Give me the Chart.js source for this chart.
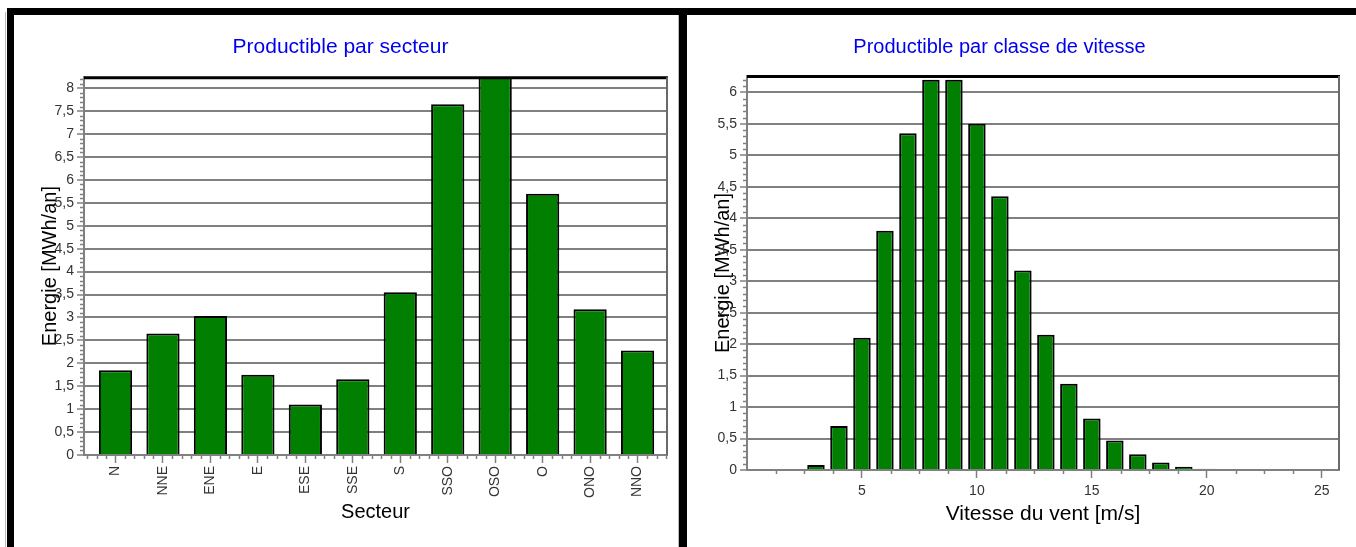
<!DOCTYPE html>
<html>
<head>
<meta charset="utf-8">
<script src="https://cdn.jsdelivr.net/npm/chart.js@4.4.0/dist/chart.umd.min.js"></script>
<style>
  html, body { margin: 0; padding: 0; background: #fff; width: 1356px; height: 547px; overflow: hidden; }
  body { position: relative; }
  canvas { position: absolute; }
  #sectorChart { left: 14px; top: 15px; }
  #speedChart { left: 660px; top: 15px; }
  .bar { position: absolute; background: #000; z-index: 3; }
  .edge { position: absolute; background: #b8b8b8; z-index: 3; }
</style>
</head>
<body>
<canvas id="sectorChart" width="672" height="532" style="width:672px;height:532px"></canvas>
<canvas id="speedChart" width="696" height="532" style="width:696px;height:532px"></canvas>

<!-- panel frames -->
<div class="edge" style="left:5px;top:12px;width:1px;height:535px"></div>
<div class="bar" style="left:7px;top:8px;width:1349px;height:7px"></div>
<div class="bar" style="left:7px;top:8px;width:7px;height:539px"></div>
<div class="edge" style="left:678px;top:15px;width:1px;height:532px"></div>
<div class="bar" style="left:679px;top:8px;width:8px;height:539px"></div>

<script>
// Energy produced per wind direction sector (MWh/an)
const sectors = ['N', 'NNE', 'ENE', 'E', 'ESE', 'SSE', 'S', 'SSO', 'OSO', 'O', 'ONO', 'NNO'];
const sectorEnergy = [1.85, 2.65, 3.03, 1.75, 1.1, 1.65, 3.55, 7.65, 8.27, 5.7, 3.18, 2.28];

// Energy produced per wind speed class (m/s -> MWh/an)
const speedClasses = [3, 4, 5, 6, 7, 8, 9, 10, 11, 12, 13, 14, 15, 16, 17, 18, 19, 20];
const speedEnergy = [0.08, 0.7, 2.1, 3.8, 5.35, 6.2, 6.2, 5.5, 4.35, 3.17, 2.15, 1.37, 0.82, 0.47, 0.25, 0.12, 0.05, 0.02];

// Labelled ticks of the wind speed axis
const speedTickLabels = [5, 10, 15, 20, 25];

const GREEN = '#007f00';
const GRAY = '#808080';
const BLUE = '#0000ee';
const TEXT = '#333';

Chart.defaults.font.family = '"Liberation Sans", Arial, sans-serif';
Chart.defaults.color = TEXT;

const decimalComma = v => String(Number(v.toFixed(2))).replace('.', ',');

// Short unlabelled ticks between the major ones
function minorTicks(yStep, yMajor, xValues) {
  return {
    id: 'minorTicks',
    afterDraw(chart) {
      const { ctx } = chart;
      const xs = chart.scales.x, ys = chart.scales.y;
      ctx.save();
      ctx.strokeStyle = GRAY;
      ctx.lineWidth = 1.5;
      ctx.beginPath();
      const n = Math.floor((ys.max - ys.min) / yStep + 1e-6);
      for (let i = 1; i <= n; i++) {
        const v = ys.min + i * yStep;
        const r = v / yMajor;
        if (Math.abs(r - Math.round(r)) < 1e-6) continue;
        const py = Math.round(ys.getPixelForValue(v)) + 0.5;
        ctx.moveTo(ys.right - 4, py);
        ctx.lineTo(ys.right, py);
      }
      for (const v of xValues) {
        const px = Math.round(xs.getPixelForValue(v)) + 0.5;
        ctx.moveTo(px, xs.top);
        ctx.lineTo(px, xs.top + 4);
      }
      ctx.stroke();
      ctx.restore();
    }
  };
}

// Black top edge and grey right edge of the plot box
const plotFrame = {
  id: 'plotFrame',
  afterDatasetsDraw(chart) {
    const { ctx, chartArea: a } = chart;
    ctx.save();
    ctx.strokeStyle = '#000';
    ctx.lineWidth = 3;
    ctx.beginPath();
    ctx.moveTo(a.left, a.top + 0.5);
    ctx.lineTo(a.right + 1, a.top + 0.5);
    ctx.stroke();
    ctx.strokeStyle = '#6a6a6a';
    ctx.lineWidth = 2;
    ctx.beginPath();
    ctx.moveTo(a.right, a.top);
    ctx.lineTo(a.right, a.bottom);
    ctx.stroke();
    ctx.restore();
  }
};

function titleOpts(text, size) {
  return { display: true, text, color: BLUE, font: { size, weight: 'normal' }, padding: { top: 20, bottom: 17 } };
}

function yAxis(max, width, titlePad) {
  return {
    min: 0, max,
    ticks: { stepSize: 0.5, includeBounds: false, padding: 3, font: { size: 14 }, color: TEXT, callback: decimalComma },
    grid: { color: GRAY, lineWidth: 2, tickLength: 7, tickColor: GRAY, tickWidth: 1.5 },
    border: { color: GRAY, width: 2 },
    title: { display: true, text: 'Energie [MWh/an]', color: '#000', font: { size: 20 }, padding: { top: titlePad, bottom: 0 } },
    afterFit: s => { s.width = width; }
  };
}

// Sector chart: sectors are placed at 0..11 on the horizontal axis
const sectorMinor = [];
for (let i = -3; i <= 58; i++) if (i % 5 !== 0) sectorMinor.push(i / 5);

new Chart(document.getElementById('sectorChart'), {
  type: 'bar',
  data: {
    datasets: [{
      data: sectorEnergy.map((y, i) => ({ x: i, y })),
      backgroundColor: GREEN,
      borderColor: '#000',
      borderWidth: 2,
      borderSkipped: 'start',
      categoryPercentage: 1,
      barPercentage: 0.7
    }]
  },
  options: {
    responsive: false,
    animation: false,
    layout: { padding: { left: 0, right: 19, top: 0, bottom: 0 } },
    plugins: {
      legend: { display: false },
      tooltip: { enabled: false },
      title: titleOpts('Productible par secteur', 21)
    },
    scales: {
      x: {
        type: 'linear',
        min: -0.664, max: 11.62,
        offset: false,
        afterBuildTicks: s => { s.ticks = sectors.map((_, value) => ({ value })); },
        grid: { offset: false, drawOnChartArea: false, tickLength: 8, tickColor: GRAY, tickWidth: 1.5 },
        border: { color: GRAY, width: 2 },
        ticks: { minRotation: 90, maxRotation: 90, autoSkip: false, padding: 3, font: { size: 14 }, color: TEXT,
                 callback: v => sectors[v] },
        title: { display: true, text: 'Secteur', color: '#000', font: { size: 20 }, padding: { top: 0, bottom: 23 } },
        afterFit: s => { s.height = 92; }
      },
      y: yAxis(8.24, 70, 24)
    }
  },
  plugins: [minorTicks(0.1, 0.5, sectorMinor.filter(v => v > -0.664 && v < 11.62)), plotFrame]
});

// Wind speed class chart
const speedMinor = [];
for (let k = 1; k * 1.25 <= 25.75; k++) if (k % 4 !== 0) speedMinor.push(k * 1.25);

new Chart(document.getElementById('speedChart'), {
  type: 'bar',
  data: {
    datasets: [{
      data: speedClasses.map((x, i) => ({ x, y: speedEnergy[i] })),
      backgroundColor: GREEN,
      borderColor: '#000',
      borderWidth: 2,
      borderSkipped: 'start',
      categoryPercentage: 1,
      barPercentage: 0.76
    }]
  },
  options: {
    responsive: false,
    animation: false,
    layout: { padding: { left: 0, right: 17, top: 0, bottom: 0 } },
    plugins: {
      legend: { display: false },
      tooltip: { enabled: false },
      title: titleOpts('Productible par classe de vitesse', 20)
    },
    scales: {
      x: {
        type: 'linear',
        min: 0, max: 25.75,
        offset: false,
        afterBuildTicks: s => { s.ticks = speedTickLabels.map(value => ({ value })); },
        grid: { offset: false, drawOnChartArea: false, tickLength: 8, tickColor: GRAY, tickWidth: 1.5 },
        border: { color: GRAY, width: 2 },
        ticks: { autoSkip: false, maxRotation: 0, padding: 5, font: { size: 14 }, color: TEXT },
        title: { display: true, text: 'Vitesse du vent [m/s]', color: '#000', font: { size: 21 }, padding: { top: 0, bottom: 20 } },
        afterFit: s => { s.height = 77; }
      },
      y: yAxis(6.26, 87, 51)
    }
  },
  plugins: [minorTicks(0.1, 0.5, speedMinor), plotFrame]
});
</script>
</body>
</html>
